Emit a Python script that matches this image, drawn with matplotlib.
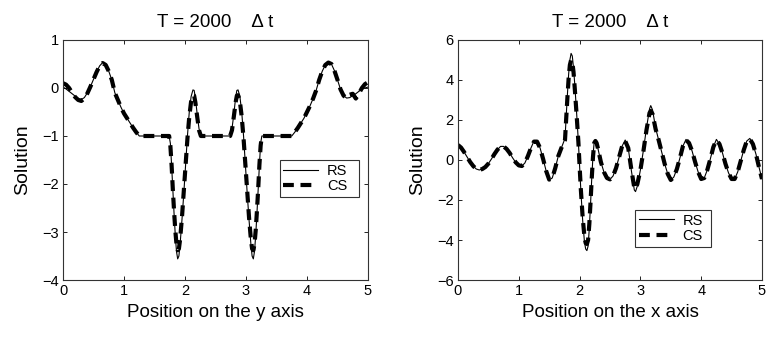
import numpy as np
import matplotlib
matplotlib.use('Agg')
import matplotlib.pyplot as plt

plt.rcParams['font.family'] = ['Liberation Sans', 'DejaVu Sans']

# ---- left panel: position on the y axis ----
y_pos = [0.0, 0.05, 0.1, 0.15, 0.2, 0.25, 0.3, 0.35, 0.4, 0.45, 0.5, 0.55, 0.6, 0.65,
         0.7, 0.75, 0.8, 0.85, 0.9, 0.95, 1.0, 1.05, 1.1, 1.15, 1.2, 1.25, 1.5, 1.74,
         1.76, 1.78, 1.8, 1.82, 1.84, 1.86, 1.88, 1.9, 1.92, 1.95, 1.98, 2.01, 2.04,
         2.07, 2.1, 2.13, 2.15, 2.17, 2.2, 2.23, 2.26, 2.5, 2.74, 2.77, 2.8, 2.83, 2.85,
         2.87, 2.9, 2.93, 2.96, 2.99, 3.02, 3.05, 3.08, 3.1, 3.12, 3.14, 3.16, 3.18, 3.2,
         3.22, 3.24, 3.26, 3.5, 3.75, 3.8, 3.85, 3.9, 3.95, 4.0, 4.05, 4.1, 4.15, 4.2,
         4.25, 4.3, 4.35, 4.4, 4.45, 4.5, 4.55, 4.6, 4.65, 4.7, 4.75, 4.8, 4.85, 4.9,
         4.95, 5.0]
rs_left = [0.02, -0.02, -0.07, -0.12, -0.17, -0.22, -0.24, -0.2, -0.1, 0.03, 0.18, 0.33,
           0.46, 0.53, 0.48, 0.35, 0.17, -0.1, -0.25, -0.4, -0.53, -0.63, -0.73, -0.83,
           -0.92, -1.0, -1.0, -1.0, -1.15, -1.6, -2.1, -2.6, -3.05, -3.4, -3.56, -3.5,
           -3.25, -2.75, -2.2, -1.6, -1.0, -0.5, -0.18, -0.04, -0.05, -0.2, -0.55, -0.85,
           -1.0, -1.0, -1.0, -0.85, -0.55, -0.2, -0.05, -0.04, -0.18, -0.5, -1.0, -1.6,
           -2.2, -2.75, -3.25, -3.5, -3.56, -3.4, -3.05, -2.6, -2.1, -1.6, -1.15, -1.0,
           -1.0, -1.0, -0.92, -0.83, -0.73, -0.63, -0.5, -0.37, -0.22, -0.05, 0.17, 0.35,
           0.48, 0.54, 0.5, 0.36, 0.17, -0.03, -0.16, -0.21, -0.2, -0.16, -0.12, -0.07,
           -0.03, 0.0, 0.02]
cs_left = [0.1, 0.07, 0.0, -0.1, -0.19, -0.25, -0.27, -0.22, -0.11, 0.03, 0.18, 0.33,
           0.46, 0.52, 0.48, 0.35, 0.17, -0.1, -0.25, -0.4, -0.53, -0.63, -0.73, -0.83,
           -0.92, -1.0, -1.0, -1.0, -1.2, -1.6, -2.1, -2.55, -2.95, -3.25, -3.38, -3.35,
           -3.15, -2.7, -2.15, -1.6, -1.05, -0.6, -0.28, -0.15, -0.16, -0.3, -0.6, -0.88,
           -1.0, -1.0, -1.0, -0.88, -0.6, -0.3, -0.16, -0.15, -0.28, -0.6, -1.05, -1.6,
           -2.15, -2.7, -3.15, -3.35, -3.38, -3.25, -2.95, -2.55, -2.1, -1.6, -1.2, -1.0,
           -1.0, -1.0, -0.92, -0.83, -0.73, -0.63, -0.5, -0.37, -0.22, -0.05, 0.17, 0.35,
           0.48, 0.53, 0.5, 0.36, 0.17, -0.03, -0.16, -0.21, -0.14, -0.12, -0.22, -0.12,
           0.0, 0.08, 0.12]

# ---- right panel: position on the x axis ----
x_pos = [0.0, 0.05, 0.1, 0.15, 0.2, 0.25, 0.3, 0.35, 0.4, 0.45, 0.5, 0.55, 0.6, 0.65,
         0.7, 0.75, 0.8, 0.85, 0.9, 0.95, 1.0, 1.05, 1.1, 1.15, 1.2, 1.25, 1.3, 1.35,
         1.4, 1.45, 1.5, 1.55, 1.6, 1.65, 1.7, 1.76, 1.78, 1.8, 1.82, 1.84, 1.86, 1.88,
         1.9, 1.92, 1.95, 1.98, 2.0, 2.02, 2.05, 2.08, 2.1, 2.12, 2.14, 2.16, 2.18, 2.2,
         2.22, 2.24, 2.26, 2.28, 2.3, 2.35, 2.4, 2.45, 2.5, 2.55, 2.6, 2.65, 2.7, 2.75,
         2.8, 2.85, 2.9, 2.92, 2.95, 3.0, 3.05, 3.1, 3.15, 3.17, 3.2, 3.25, 3.3, 3.35,
         3.4, 3.45, 3.5, 3.55, 3.6, 3.65, 3.7, 3.75, 3.8, 3.85, 3.9, 3.95, 4.0, 4.05,
         4.1, 4.15, 4.2, 4.25, 4.3, 4.35, 4.4, 4.45, 4.5, 4.55, 4.6, 4.65, 4.7, 4.75,
         4.8, 4.85, 4.9, 4.95, 5.0]
rs_right = [0.75, 0.62, 0.4, 0.15, -0.1, -0.3, -0.45, -0.5, -0.45, -0.35, -0.18, 0.05,
            0.3, 0.52, 0.68, 0.68, 0.55, 0.35, 0.1, -0.12, -0.27, -0.3, -0.15, 0.2, 0.6,
            0.95, 0.95, 0.6, 0.05, -0.55, -1.0, -0.9, -0.4, 0.2, 0.6, 1.08, 2.2, 3.3, 4.3,
            5.0, 5.33, 5.2, 4.6, 3.8, 2.4, 0.9, -0.3, -1.5, -3.0, -4.1, -4.45, -4.53,
            -4.3, -3.4, -2.2, -0.9, 0.2, 0.9, 1.0, 0.85, 0.6, -0.1, -0.6, -0.9, -0.97,
            -0.8, -0.4, 0.15, 0.7, 1.0, 0.6, -0.5, -1.5, -1.58, -1.3, -0.5, 0.5, 1.6,
            2.55, 2.72, 2.5, 1.6, 1.0, 0.4, -0.2, -0.7, -1.0, -0.85, -0.45, 0.1, 0.7,
            1.03, 0.85, 0.45, -0.1, -0.6, -0.95, -0.9, -0.5, 0.05, 0.65, 1.03, 0.8, 0.35,
            -0.2, -0.65, -0.95, -0.95, -0.6, -0.05, 0.5, 0.95, 1.08, 0.8, 0.3, -0.35,
            -0.95]
cs_right = [0.75, 0.62, 0.4, 0.15, -0.1, -0.3, -0.45, -0.5, -0.45, -0.35, -0.18, 0.05,
            0.3, 0.52, 0.68, 0.68, 0.55, 0.35, 0.1, -0.12, -0.27, -0.3, -0.15, 0.2, 0.6,
            0.92, 0.92, 0.6, 0.05, -0.55, -0.98, -0.9, -0.4, 0.2, 0.6, 1.0, 2.1, 3.15, 4.1,
            4.75, 5.0, 4.9, 4.4, 3.6, 2.3, 0.9, -0.3, -1.45, -2.85, -3.85, -4.15, -4.2,
            -4.0, -3.2, -2.1, -0.9, 0.15, 0.85, 0.95, 0.85, 0.6, -0.1, -0.6, -0.9, -0.97,
            -0.8, -0.4, 0.15, 0.7, 0.95, 0.6, -0.45, -1.4, -1.45, -1.2, -0.5, 0.45, 1.5,
            2.35, 2.45, 2.3, 1.55, 1.0, 0.4, -0.2, -0.7, -1.0, -0.85, -0.45, 0.1, 0.7,
            1.0, 0.85, 0.45, -0.1, -0.6, -0.95, -0.9, -0.5, 0.05, 0.65, 1.0, 0.8, 0.35,
            -0.2, -0.65, -0.95, -0.95, -0.6, -0.05, 0.5, 0.95, 1.05, 0.8, 0.3, -0.35,
            -0.95]

title_text = 'T = 2000    \u0394 t'

fig = plt.figure(figsize=(7.69, 3.40), dpi=100)
ax1 = fig.add_axes([63 / 769, 60 / 340, 305 / 769, 240 / 340])
ax2 = fig.add_axes([458 / 769, 60 / 340, 304 / 769, 240 / 340])

panels = [
    (ax1, y_pos, rs_left, cs_left, (-4, 1), 'Position on the y axis',
     (0.71, 0.347, 0.26, 0.167)),
    (ax2, x_pos, rs_right, cs_right, (-6, 6), 'Position on the x axis',
     (0.582, 0.139, 0.25, 0.174)),
]

for ax, xs, rs, cs, ylim, xlabel, leg_box in panels:
    ax.plot(xs, rs, color='black', linewidth=0.8, label='RS')
    ax.plot(xs, cs, color='black', linewidth=3.0, linestyle=(0, (2.6, 1.6)), label='CS')
    ax.set_xlim(0, 5)
    ax.set_ylim(*ylim)
    ax.set_xticks(np.arange(0, 6, 1))
    ax.tick_params(direction='in', top=True, right=True, labelsize=10.5, length=3,
                   width=0.6, pad=3)
    for sp in ax.spines.values():
        sp.set_linewidth(0.8)
        sp.set_color('#333333')
    ax.set_xlabel(xlabel, fontsize=13.5, labelpad=4)
    ax.set_ylabel('Solution', fontsize=14, labelpad=8)
    ax.set_title(title_text, fontsize=13.5, pad=9)
    leg = ax.legend(loc='lower left', bbox_to_anchor=leg_box, mode='expand', fontsize=10.5,
                    frameon=True, fancybox=False, edgecolor='black', handlelength=2.4,
                    borderpad=0.25, labelspacing=0.1, handletextpad=0.6,
                    borderaxespad=0)
    leg.get_frame().set_linewidth(0.8)
    for t in leg.get_texts():
        t.set_ha('right')

fig.savefig('out.png', dpi=100)
